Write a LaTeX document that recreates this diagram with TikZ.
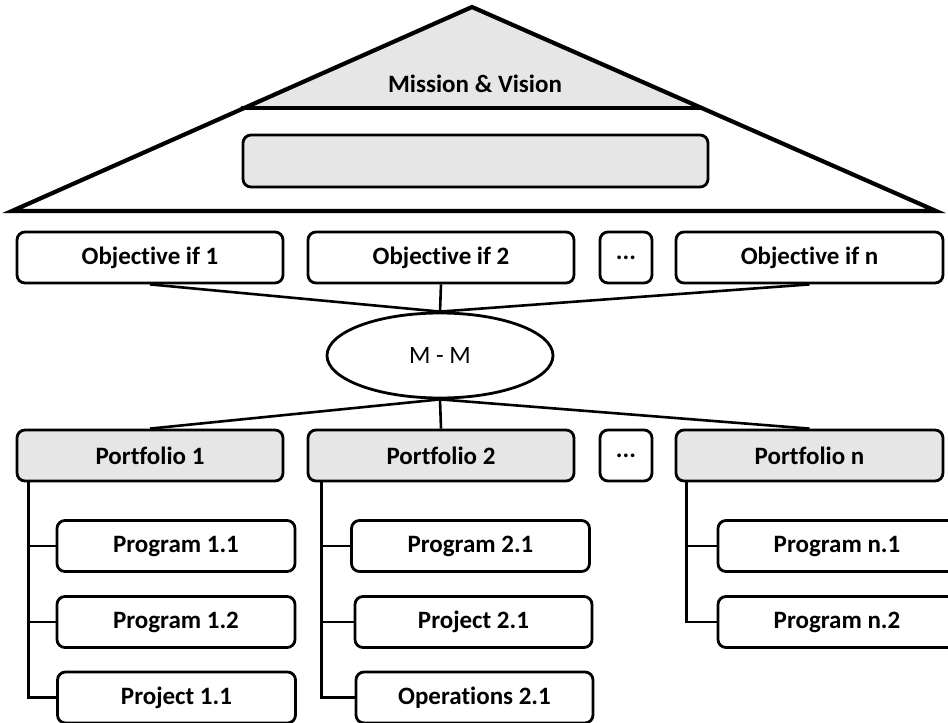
\documentclass[tikz,border=0pt]{standalone}
\usepackage{fontspec}
\setmainfont[Ligatures={NoCommon}]{Carlito}
\usetikzlibrary{shapes.geometric}
\definecolor{boxgray}{HTML}{E6E6E6}
\tikzset{
  txt/.style={font=\bfseries\fontsize{25}{28}\selectfont},
  box/.style={draw, rounded corners=8pt, line width=2.8pt, minimum height=51pt, inner sep=0pt,
    txt, fill=white},
  gbox/.style={box, fill=boxgray},
  conn/.style={line width=2.6pt},
  tri/.style={line width=4.2pt, line join=miter},
}
\begin{document}
\begin{tikzpicture}[x=1pt,y=-1pt]
\useasboundingbox (0,0) rectangle (948,723);
\clip (0,0) rectangle (948,723);
% pyramid
\fill[boxgray] (472,7) -- (703,108) -- (241,108) -- cycle;
\draw[tri] (472,7) -- (936,211) -- (12,211) -- cycle;
\draw[tri] (241,108) -- (703,108);
\node[txt] (mv) at (475,84) {Mission \& Vision};
\node[gbox, minimum width=465pt, minimum height=52pt] (strat) at (475.5,161) {};
% objectives
\node[box, minimum width=266pt] (o1) at (150,257.5) {Objective if 1};
\node[box, minimum width=266pt] (o2) at (441,257.5) {Objective if 2};
\node[box, minimum width=52pt] (od) at (626,257.5) {...};
\node[box, minimum width=267pt] (on) at (809.5,257.5) {Objective if n};
% M-M
\node[draw, ellipse, line width=2.8pt, minimum width=226pt, minimum height=85pt, inner sep=0pt,
  font=\fontsize{25}{28}\selectfont] (mm) at (440,355.5) {M - M};
\draw[conn] (o1.south) -- (mm.north);
\draw[conn] (o2.south) -- (mm.north);
\draw[conn] (on.south) -- (mm.north);
% portfolios
\node[gbox, minimum width=266pt] (p1) at (150,455.5) {Portfolio 1};
\node[gbox, minimum width=266pt] (p2) at (441,455.5) {Portfolio 2};
\node[box, minimum width=52pt] (pd) at (626,455.5) {...};
\node[gbox, minimum width=267pt] (pn) at (809.5,455.5) {Portfolio n};
\draw[conn] (mm.south) -- (p1.north);
\draw[conn] (mm.south) -- (p2.north);
\draw[conn] (mm.south) -- (pn.north);
% children
\node[box, minimum width=238pt] (c11) at (176,546) {Program 1.1};
\node[box, minimum width=238pt] (c12) at (176,622) {Program 1.2};
\node[box, minimum width=238pt] (c13) at (176.5,697.5) {Project 1.1};
\node[box, minimum width=238pt] (c21) at (470.5,546) {Program 2.1};
\node[box, minimum width=237pt] (c22) at (473.5,622) {Project 2.1};
\node[box, minimum width=237pt] (c23) at (474.5,697.5) {Operations 2.1};
\node[box, minimum width=238pt] (cn1) at (837,546) {Program n.1};
\node[box, minimum width=238pt] (cn2) at (837,622) {Program n.2};
\draw[conn] ([xshift=13pt]p1.south west) |- (c13.west);
\draw[conn] ([xshift=13pt]p1.south west |- c11.west) -- (c11.west);
\draw[conn] ([xshift=13pt]p1.south west |- c12.west) -- (c12.west);
\draw[conn] ([xshift=15pt]p2.south west) |- (c23.west);
\draw[conn] ([xshift=15pt]p2.south west |- c21.west) -- (c21.west);
\draw[conn] ([xshift=15pt]p2.south west |- c22.west) -- (c22.west);
\draw[conn] ([xshift=12pt]pn.south west) |- (cn2.west);
\draw[conn] ([xshift=12pt]pn.south west |- cn1.west) -- (cn1.west);
\end{tikzpicture}
\end{document}
